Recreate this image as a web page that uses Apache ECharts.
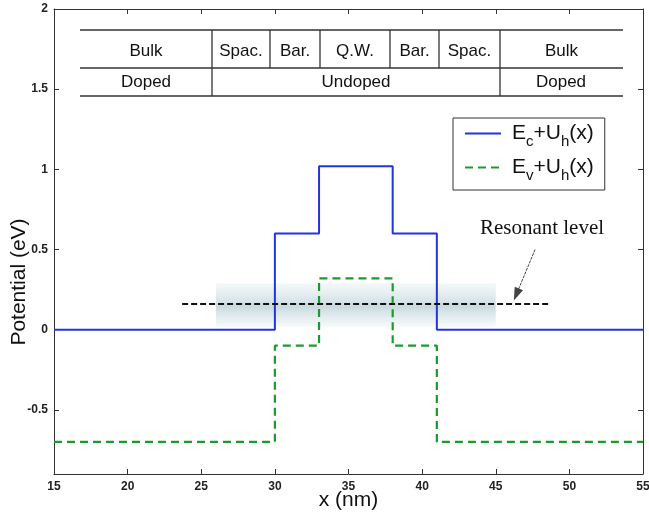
<!DOCTYPE html>
<html>
<head>
<meta charset="utf-8">
<script src="https://cdn.jsdelivr.net/npm/echarts@6/dist/echarts.min.js"></script>
<style>
  html, body { margin: 0; padding: 0; background: #fff; }
  #chart { width: 649px; height: 514px; }
</style>
</head>
<body>
<div id="chart"></div>
<script>
// step edges (nm) and levels (eV)
const ecX = [15, 30, 33, 38, 41, 55];
const ecY = [0, 0.6, 1.02, 0.6, 0, 0];
const evX = [15, 30, 33, 38, 41, 55];
const evY = [-0.7, -0.1, 0.32, -0.1, -0.7, -0.7];
const resonantX = [23.7, 48.7];
const resonantE = 0.16;
const bandX = [26, 45];
const bandY = [0.02, 0.29];
const yTicks = [-0.5, 0, 0.5, 1, 1.5, 2];

const chart = echarts.init(document.getElementById("chart"));
const font = "Liberation Sans, Arial, sans-serif";

function pairs(xs, ys) {
  return xs.map((x, i) => [x, ys[i]]);
}

// region table drawn above the curves
const rowTop = 30, rowMid = 68, rowBot = 96;
const cols = [80, 212, 270, 320, 390, 439, 500, 623];
const topLabels = ["Bulk", "Spac.", "Bar.", "Q.W.", "Bar.", "Spac.", "Bulk"];
const tableLines = [
  [80, rowTop, 623, rowTop],
  [80, rowMid, 623, rowMid],
  [80, rowBot, 623, rowBot],
  [212, rowTop, 212, rowBot],
  [500, rowTop, 500, rowBot],
  [270, rowTop, 270, rowMid],
  [320, rowTop, 320, rowMid],
  [390, rowTop, 390, rowMid],
  [439, rowTop, 439, rowMid]
];
const graphics = tableLines.map((l) => ({
  type: "line",
  shape: { x1: l[0], y1: l[1], x2: l[2], y2: l[3] },
  style: { stroke: "#333", lineWidth: 1.3 }
}));
topLabels.forEach((t, i) => {
  graphics.push({
    type: "text",
    x: (cols[i] + cols[i + 1]) / 2,
    y: 51,
    style: { text: t, font: "17px " + font, fill: "#111", align: "center", verticalAlign: "middle" }
  });
});
[["Doped", 146], ["Undoped", 356], ["Doped", 561]].forEach((d) => {
  graphics.push({
    type: "text",
    x: d[1],
    y: 82,
    style: { text: d[0], font: "17px " + font, fill: "#111", align: "center", verticalAlign: "middle" }
  });
});
// y axis title sits a bit below the middle in the original
graphics.push({
  type: "text",
  x: 19,
  y: 282,
  rotation: Math.PI / 2,
  style: { text: "Potential (eV)", font: "21px " + font, fill: "#111", align: "center", verticalAlign: "middle" }
});

const option = {
  animation: false,
  backgroundColor: "#fff",
  grid: { left: 54, right: 6, top: 9, bottom: 40, outerBoundsMode: "none", containLabel: false },
  legend: {
    left: 453,
    top: 118,
    orient: "vertical",
    backgroundColor: "#fff",
    borderColor: "#333",
    borderWidth: 1,
    padding: [5, 11, 7, 11],
    itemWidth: 36,
    itemHeight: 10,
    itemGap: 8,
    itemStyle: { opacity: 0 },
    data: ["Ec", "Ev"],
    formatter: (name) => name === "Ec"
      ? "{p|}{a|E}{s|c}{a|+U}{s|h}{a|(x)}"
      : "{p|}{a|E}{s|v}{a|+U}{s|h}{a|(x)}",
    textStyle: {
      rich: {
        p: { width: 6 },
        a: { fontSize: 21, fontFamily: font, color: "#111" },
        s: { fontSize: 15, fontFamily: font, color: "#111", verticalAlign: "bottom", padding: [16, 0, 0, 0] }
      }
    }
  },
  xAxis: [
    {
      type: "value", min: 15, max: 55, interval: 5,
      name: "x (nm)", nameLocation: "middle", nameGap: 16, nameMoveOverlap: false,
      nameTextStyle: { fontSize: 21, fontFamily: font, color: "#111", verticalAlign: "top" },
      axisLine: { onZero: false, lineStyle: { color: "#333", width: 1 } },
      axisTick: { inside: true, length: 5, lineStyle: { color: "#333" } },
      axisLabel: { fontSize: 12, fontWeight: "bold", fontFamily: font, color: "#222", margin: 7 },
      splitLine: { show: false }
    },
    {
      type: "value", min: 15, max: 55, interval: 5, position: "top",
      axisLine: { onZero: false, lineStyle: { color: "#333", width: 1 } },
      axisTick: { inside: true, length: 5, lineStyle: { color: "#333" } },
      axisLabel: { show: false },
      splitLine: { show: false }
    }
  ],
  yAxis: [
    {
      type: "value", min: -0.9, max: 2,
      axisLine: { show: true, onZero: false, lineStyle: { color: "#333", width: 1 } },
      axisTick: { show: true, inside: true, length: 5, customValues: yTicks, lineStyle: { color: "#333" } },
      axisLabel: { fontSize: 12, fontWeight: "bold", fontFamily: font, color: "#222", margin: 6, customValues: yTicks },
      splitLine: { show: false }
    },
    {
      type: "value", min: -0.9, max: 2, position: "right",
      axisLine: { show: true, onZero: false, lineStyle: { color: "#333", width: 1 } },
      axisTick: { show: true, inside: true, length: 5, customValues: yTicks, lineStyle: { color: "#333" } },
      axisLabel: { show: false },
      splitLine: { show: false }
    }
  ],
  graphic: graphics,
  series: [
    {
      name: "band",
      type: "line",
      data: [],
      silent: true,
      markArea: {
        silent: true,
        itemStyle: {
          color: new echarts.graphic.LinearGradient(0, 0, 0, 1, [
            { offset: 0, color: "rgba(228,238,241,0.4)" },
            { offset: 0.55, color: "rgba(195,214,220,0.9)" },
            { offset: 1, color: "rgba(228,238,241,0.4)" }
          ])
        },
        data: [[{ xAxis: bandX[0], yAxis: bandY[0] }, { xAxis: bandX[1], yAxis: bandY[1] }]]
      }
    },
    {
      name: "Ec",
      type: "line",
      step: "end",
      symbol: "none",
      data: pairs(ecX, ecY),
      lineStyle: { color: "#2234e0", width: 2 },
      itemStyle: { color: "#2234e0" }
    },
    {
      name: "Ev",
      type: "line",
      step: "end",
      symbol: "none",
      data: pairs(evX, evY),
      lineStyle: { color: "#1c9a2c", width: 2.2, type: [8, 5] },
      itemStyle: { color: "#1c9a2c" }
    },
    {
      name: "resonant",
      type: "line",
      symbol: "none",
      data: resonantX.map((x) => [x, resonantE]),
      lineStyle: { color: "#111", width: 2, type: [6, 3] },
      markLine: {
        silent: true,
        symbol: ["none", "triangle"],
        symbolSize: [9, 13],
        lineStyle: { color: "#444", width: 1, type: [3, 1] },
        itemStyle: { color: "#111" },
        label: { show: false },
        data: [[{ coord: [47.67, 0.5] }, { coord: [46.4, 0.22] }]]
      },
      markPoint: {
        symbol: "circle",
        symbolSize: 0,
        label: {
          show: true,
          position: "inside",
          formatter: "Resonant level",
          fontSize: 21,
          fontFamily: "Liberation Serif, Times New Roman, serif",
          color: "#111"
        },
        data: [{ coord: [48.14, 0.63] }]
      }
    }
  ]
};
chart.setOption(option);
</script>
</body>
</html>
